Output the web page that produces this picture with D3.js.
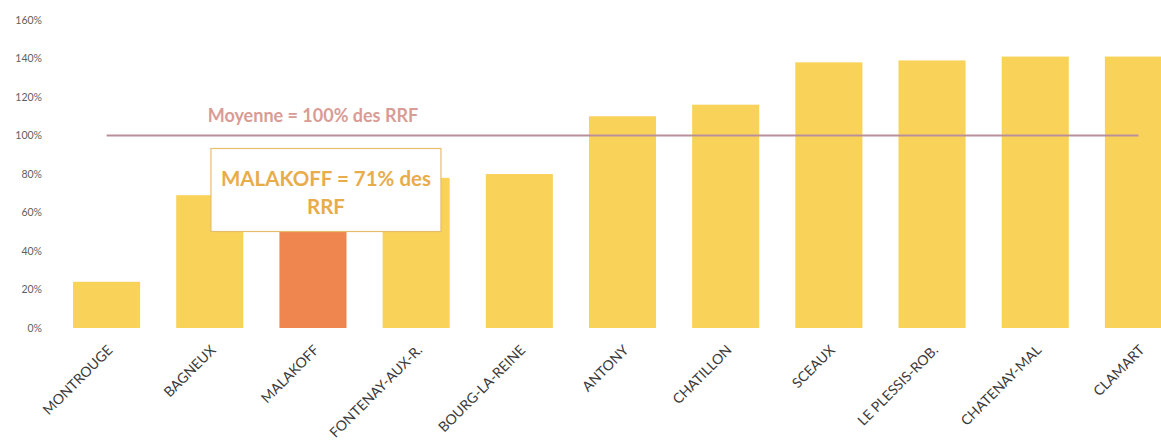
<!DOCTYPE html>
<html>
<head>
<meta charset="utf-8">
<script src="https://cdn.jsdelivr.net/npm/d3@7"></script>
<style>
  html, body { margin: 0; padding: 0; background: #ffffff; }
  svg { display: block; }
</style>
</head>
<body>
<svg id="chart" width="1161" height="445"></svg>
<script>
// Communes and their ratio of the reference average (RRF)
const communes = ["MONTROUGE", "BAGNEUX", "MALAKOFF", "FONTENAY-AUX-R.", "BOURG-LA-REINE",
  "ANTONY", "CHATILLON", "SCEAUX", "LE PLESSIS-ROB.", "CHATENAY-MAL", "CLAMART"];
const ratios = [0.24, 0.69, 0.71, 0.78, 0.80, 1.10, 1.16, 1.38, 1.39, 1.41, 1.41];
const highlighted = "MALAKOFF";
const averageValue = 1.0;
const yTicks = [0, 0.2, 0.4, 0.6, 0.8, 1.0, 1.2, 1.4, 1.6];
const averageLabel = "Moyenne = 100% des RRF";
const calloutLines = ["MALAKOFF = 71% des", "RRF"];

const svg = d3.select("#chart");
const font = "Lato, 'Noto Sans', sans-serif";

const x = d3.scaleBand().domain(communes).range([55, 1190]).paddingInner(0.35).paddingOuter(0.175);
const y = d3.scaleLinear().domain([0, 1.6]).range([328, 20]);

// y axis labels only (no axis line, no gridlines)
const yAxis = d3.axisLeft(y).tickValues(yTicks).tickSize(0).tickPadding(0)
  .tickFormat(d => Math.round(d * 100) + "%");
const gy = svg.append("g").attr("transform", "translate(42,0)").call(yAxis);
gy.select(".domain").remove();
gy.selectAll("text").attr("font-family", font).attr("font-size", 10.5).attr("fill", "#5f5f5f");

// bars
svg.append("g").selectAll("rect").data(communes).join("rect")
  .attr("x", d => x(d))
  .attr("width", x.bandwidth())
  .attr("y", (d, i) => y(ratios[i]))
  .attr("height", (d, i) => y(0) - y(ratios[i]))
  .attr("fill", d => d === highlighted ? "#ef854f" : "#f9d25a");

// rotated category labels
const xAxis = d3.axisBottom(x).tickSize(0).tickPadding(0);
const gx = svg.append("g").attr("transform", `translate(0,${y(0)})`).call(xAxis);
gx.select(".domain").remove();
gx.selectAll("text")
  .attr("font-family", font).attr("font-size", 14).attr("fill", "#3a3a3a")
  .attr("text-anchor", "end").attr("dy", null).attr("y", 0)
  .attr("transform", "translate(7,23) rotate(-45)");

// average reference line
const first = communes[0], last = communes[communes.length - 1];
svg.append("line")
  .attr("x1", x(first) + x.bandwidth() / 2)
  .attr("x2", x(last) + x.bandwidth() / 2)
  .attr("y1", y(averageValue)).attr("y2", y(averageValue))
  .attr("stroke", "#b98f9a").attr("stroke-width", 2);

svg.append("text")
  .attr("x", x(highlighted) + x.bandwidth() / 2)
  .attr("y", y(averageValue) - 14)
  .attr("text-anchor", "middle")
  .attr("font-family", font).attr("font-weight", "bold").attr("font-size", 18)
  .attr("fill", "#d99c95")
  .text(averageLabel);

// callout box for the highlighted commune
const cx = x(highlighted) + x.bandwidth() / 2 + 13;
const boxW = 230, boxH = 83;
const boxTop = y(averageValue) + 13;
svg.append("rect")
  .attr("x", cx - boxW / 2).attr("y", boxTop)
  .attr("width", boxW).attr("height", boxH)
  .attr("fill", "#ffffff").attr("stroke", "#e6bd6e").attr("stroke-width", 1.2);
svg.append("text")
  .attr("text-anchor", "middle")
  .attr("font-family", font).attr("font-weight", "bold").attr("font-size", 20.5)
  .attr("fill", "#e9ac4b")
  .selectAll("tspan").data(calloutLines).join("tspan")
  .attr("x", cx)
  .attr("y", (d, i) => boxTop + 37 + i * 28)
  .text(d => d);
</script>
</body>
</html>
